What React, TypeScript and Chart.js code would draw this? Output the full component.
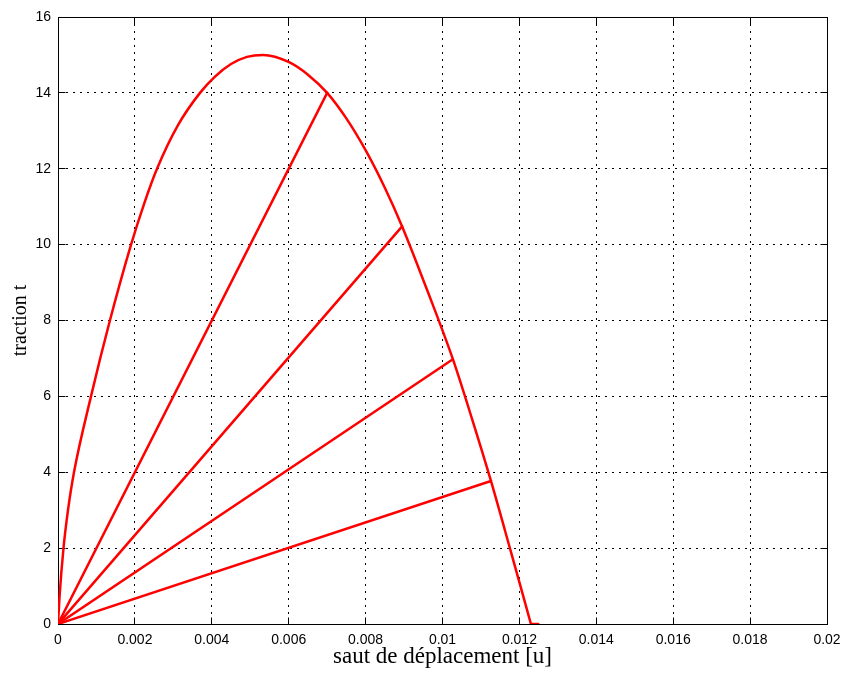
import React, { useEffect, useRef } from 'react';
import { Chart, registerables } from 'chart.js';

Chart.register(...registerables);

// Envelope (traction-separation law)
const envelopeU = [
  0, 0.000039, 0.000143, 0.00026, 0.000416, 0.000858, 0.00135, 0.0019, 0.002237, 0.002575,
  0.003121, 0.003693, 0.004083, 0.0045, 0.004915, 0.005332, 0.00601, 0.0065, 0.007, 0.00749,
  0.00801, 0.0085, 0.00895, 0.00962, 0.01027, 0.01077, 0.01126, 0.01178, 0.0123,
];
const envelopeT = [
  0, 0.7, 2.0, 3.0, 4.0, 6.0, 8.0, 10.0, 11.07, 12.0,
  13.15, 14.0, 14.43, 14.76, 14.95, 15.0, 14.81, 14.48, 14.0, 13.34,
  12.47, 11.5, 10.48, 8.75, 6.98, 5.4, 3.77, 1.9, 0,
];

// Flat tail after full separation
const tailU = [0.0123, 0.01249];
const tailT = [0, 0];

// Unloading lines: from origin to these points on the envelope
const unloadEndU = [0.007, 0.00895, 0.01027, 0.01126];
const unloadEndT = [14.0, 10.48, 6.98, 3.77];

// Tick values
const xTickValues = [0, 0.002, 0.004, 0.006, 0.008, 0.01, 0.012, 0.014, 0.016, 0.018, 0.02];
const yTickValues = [0, 2, 4, 6, 8, 10, 12, 14, 16];

const xTitle = 'saut de déplacement [u]';
const yTitle = 'traction t';

const RED = 'rgb(255,0,0)';

const ap = (p: number) => Math.round(p - 0.5) + 0.5;

const boxPlugin = {
  id: 'matlabBox',
  beforeDatasetsDraw(chart: any) {
    const { ctx, chartArea, scales } = chart;
    const L = ap(chartArea.left);
    const R = ap(chartArea.right);
    const T = ap(chartArea.top);
    const B = ap(chartArea.bottom);
    const tl = 7;
    ctx.save();
    ctx.strokeStyle = '#000';
    ctx.lineWidth = 1;
    ctx.setLineDash([]);
    ctx.beginPath();
    ctx.moveTo(L, T);
    ctx.lineTo(R, T);
    ctx.lineTo(R, B);
    ctx.lineTo(L, B);
    ctx.closePath();
    for (const v of xTickValues) {
      const px = ap(scales.x.getPixelForValue(v));
      ctx.moveTo(px, B);
      ctx.lineTo(px, B - tl);
      ctx.moveTo(px, T);
      ctx.lineTo(px, T + tl);
    }
    for (const v of yTickValues) {
      const py = ap(scales.y.getPixelForValue(v));
      ctx.moveTo(L, py);
      ctx.lineTo(L + tl, py);
      ctx.moveTo(R, py);
      ctx.lineTo(R - tl, py);
    }
    ctx.stroke();
    ctx.restore();
  },
};

export default function App() {
  const ref = useRef<HTMLCanvasElement>(null);

  useEffect(() => {
    const lineStyle = {
      borderColor: RED,
      backgroundColor: RED,
      borderWidth: 2.5,
      pointRadius: 0,
      pointHoverRadius: 0,
      showLine: true,
      fill: false,
      borderJoinStyle: 'round',
      borderCapStyle: 'round',
    };
    const datasets: any[] = [
      {
        ...lineStyle,
        label: 'envelope',
        data: envelopeU.map((u, i) => ({ x: u, y: envelopeT[i] })),
        cubicInterpolationMode: 'monotone',
      },
      {
        ...lineStyle,
        label: 'tail',
        data: tailU.map((u, i) => ({ x: u, y: tailT[i] })),
      },
      ...unloadEndU.map((u, i) => ({
        ...lineStyle,
        label: 'unload ' + (i + 1),
        data: [
          { x: 0, y: 0 },
          { x: u, y: unloadEndT[i] },
        ],
      })),
    ];

    const chart = new Chart(ref.current as HTMLCanvasElement, {
      type: 'scatter',
      data: { datasets },
      plugins: [boxPlugin],
      options: {
        animation: false,
        responsive: false,
        devicePixelRatio: 1,
        layout: { padding: { top: 17, right: 22, bottom: 0, left: 0 } },
        plugins: {
          legend: { display: false },
          tooltip: { enabled: false },
        },
        scales: {
          x: {
            type: 'linear',
            min: 0,
            max: 0.02,
            afterBuildTicks: (s: any) => {
              s.ticks = xTickValues.map((v) => ({ value: v }));
            },
            afterFit: (s: any) => {
              s.height = 53;
            },
            ticks: {
              autoSkip: false,
              maxRotation: 0,
              minRotation: 0,
              padding: 8,
              color: '#000',
              font: { family: '"Liberation Sans", Arial, sans-serif', size: 14 },
              callback: (v: any) => String(+Number(v).toFixed(4)),
            },
            grid: {
              drawTicks: false,
              color: '#000',
              lineWidth: 1,
            },
            border: { display: true, color: '#000', width: 1, dash: [2, 5] },
            title: {
              display: true,
              text: xTitle,
              color: '#000',
              font: { family: '"Liberation Serif", "Times New Roman", serif', size: 23 },
              padding: { top: 0, bottom: 6 },
            },
          },
          y: {
            type: 'linear',
            min: 0,
            max: 16,
            afterBuildTicks: (s: any) => {
              s.ticks = yTickValues.map((v) => ({ value: v }));
            },
            afterFit: (s: any) => {
              s.width = 58;
            },
            ticks: {
              autoSkip: false,
              padding: 7,
              color: '#000',
              font: { family: '"Liberation Sans", Arial, sans-serif', size: 14 },
              callback: (v: any) => String(v),
            },
            grid: {
              drawTicks: false,
              color: '#000',
              lineWidth: 1,
            },
            border: { display: true, color: '#000', width: 1, dash: [2, 5] },
            title: {
              display: true,
              text: yTitle,
              color: '#000',
              font: { family: '"Liberation Serif", "Times New Roman", serif', size: 20 },
              padding: { top: 9, bottom: 0 },
            },
          },
        },
      } as any,
    });
    return () => chart.destroy();
  }, []);

  return (
    <div style={{ position: 'absolute', left: 0, top: 0, width: 849, height: 677, background: '#fff' }}>
      <canvas ref={ref} width={849} height={677} style={{ width: 849, height: 677, display: 'block' }} />
    </div>
  );
}
